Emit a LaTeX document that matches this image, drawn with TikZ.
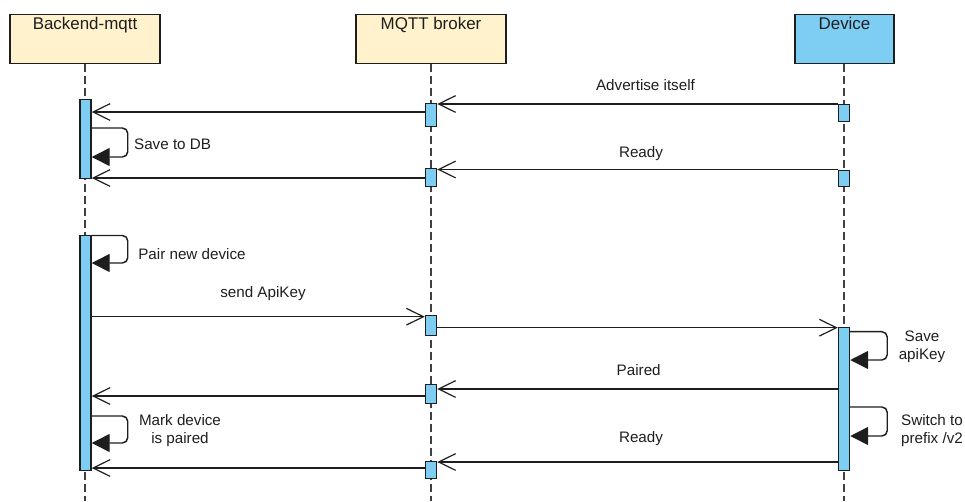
\documentclass[tikz,border=0pt]{standalone}
\usepackage{fontspec}
\setmainfont{Liberation Sans}
\usetikzlibrary{arrows.meta,calc}

\definecolor{headyellow}{RGB}{255,242,204}
\definecolor{barblue}{RGB}{126,206,244}
\definecolor{ink}{RGB}{30,30,30}

\tikzset{
  head/.style={draw=ink, line width=1.1pt, inner sep=0pt,
    minimum width=#1*0.75pt, minimum height=49*0.75pt, anchor=north},
  headtext/.style={anchor=base, text=ink, inner sep=0pt,
    font=\fontsize{12.7}{14}\selectfont},
  lifeline/.style={draw=ink!85, line width=1.1pt, dash pattern=on 6pt off 3pt},
  bar/.style={draw=ink, fill=barblue, line width=1.1pt, inner sep=0pt,
    minimum width=11*0.75pt, anchor=north},
  msg/.style={draw=ink, line width=1.1pt,
    -{Straight Barb[length=12.75pt,width=12.5pt,line width=0.9pt]}},
  selfmsg/.style={draw=ink, line width=1.1pt, rounded corners=4pt,
    -{Triangle[length=13.5pt,width=13.5pt]}},
  lbl/.style={text=ink, inner sep=0pt, align=center,
    font=\fontsize{11.4}{13.3}\selectfont},
}

\begin{document}
\begin{tikzpicture}[x=0.75pt,y=-0.75pt]
\useasboundingbox (0,0) rectangle (965,501);

% participants
\node[head=150, fill=headyellow] (be) at (85,14) {};
\node[head=150, fill=headyellow] (mq) at (431,14) {};
\node[head=99, fill=barblue] (dv) at (844.5,14) {};
\node[headtext] (bet) at (85,29) {Backend-mqtt};
\node[headtext] (mqt) at (431,29) {MQTT broker};
\node[headtext] (dvt) at (844.5,29) {Device};

% lifeline ends
\coordinate (beEnd) at (85,501);
\coordinate (mqEnd) at (431,501);
\coordinate (dvEnd) at (844,501);
\draw[lifeline] (be.south) -- (beEnd);
\draw[lifeline] (mq.south) -- (mqEnd);
\draw[lifeline] (dv.south -| dvEnd) -- (dvEnd);

% activation bars
\node[bar, minimum height=79*0.75pt]  (a1) at (85.5,99) {};
\node[bar, minimum height=235*0.75pt] (a2) at (85.5,235) {};
\node[bar, minimum height=23*0.75pt]  (m1) at (431,103) {};
\node[bar, minimum height=18*0.75pt]  (m2) at (431,168) {};
\node[bar, minimum height=20*0.75pt]  (m3) at (431,315) {};
\node[bar, minimum height=19*0.75pt]  (m4) at (431,384) {};
\node[bar, minimum height=17*0.75pt]  (m5) at (431,461) {};
\node[bar, minimum height=17*0.75pt]  (d1) at (844,104) {};
\node[bar, minimum height=16*0.75pt]  (d2) at (844,170) {};
\node[bar, minimum height=143*0.75pt] (d3) at (844,327) {};

% message rows
\coordinate (r1) at (0,104);
\coordinate (r2) at (0,112);
\coordinate (r3a) at (0,128);   \coordinate (r3b) at (0,157);
\coordinate (r4) at (0,169.5);
\coordinate (r5) at (0,178);
\coordinate (r6a) at (0,235.5); \coordinate (r6b) at (0,263);
\coordinate (r7) at (0,316.7);
\coordinate (r8) at (0,327.7);
\coordinate (r9a) at (0,331.7); \coordinate (r9b) at (0,360);
\coordinate (r10) at (0,389);
\coordinate (r11) at (0,396);
\coordinate (r12a) at (0,416);  \coordinate (r12b) at (0,443);
\coordinate (r13a) at (0,407);  \coordinate (r13b) at (0,436);
\coordinate (r14) at (0,462);
\coordinate (r15) at (0,468);

% messages
\draw[msg] (d1.west |- r1) -- (m1.east |- r1);
\draw[msg] (m1.west |- r2) -- (a1.east |- r2);
\draw[selfmsg] (a1.east |- r3a) -- ++(36,0) |- (a1.east |- r3b);
\draw[msg] (d2.west |- r4) -- (m2.east |- r4);
\draw[msg] (m2.west |- r5) -- (a1.east |- r5);

\draw[selfmsg] (a2.east |- r6a) -- ++(36,0) |- (a2.east |- r6b);
\draw[msg] (a2.east |- r7) -- (m3.west |- r7);
\draw[msg] (m3.east |- r8) -- (d3.west |- r8);
\draw[selfmsg] (d3.east |- r9a) -- ++(37,0) |- (d3.east |- r9b);
\draw[msg] (d3.west |- r10) -- (m4.east |- r10);
\draw[msg] (m4.west |- r11) -- (a2.east |- r11);
\draw[selfmsg] (a2.east |- r12a) -- ++(36,0) |- (a2.east |- r12b);
\draw[selfmsg] (d3.east |- r13a) -- ++(37,0) |- (d3.east |- r13b);
\draw[msg] (d3.west |- r14) -- (m5.east |- r14);
\draw[msg] (m5.west |- r15) -- (a2.east |- r15);

% labels
\node[lbl, anchor=base] (l1) at (645.5,90) {Advertise itself};
\node[lbl, anchor=base] (l2) at (172.6,149) {Save to DB};
\node[lbl, anchor=base] (l3) at (641,157.5) {Ready};
\node[lbl, anchor=base] (l4) at (192,259) {Pair new device};
\node[lbl, anchor=base] (l5) at (263,297.5) {send ApiKey};
\node[lbl] (l6) at (922,347) {Save\\apiKey};
\node[lbl, anchor=base] (l7) at (638.7,375.5) {Paired};
\node[lbl] (l8) at (180,430.5) {Mark device\\is paired};
\node[lbl] (l9) at (932,430.5) {Switch to\\prefix /v2};
\node[lbl, anchor=base] (l10) at (641,442.5) {Ready};
\end{tikzpicture}
\end{document}
